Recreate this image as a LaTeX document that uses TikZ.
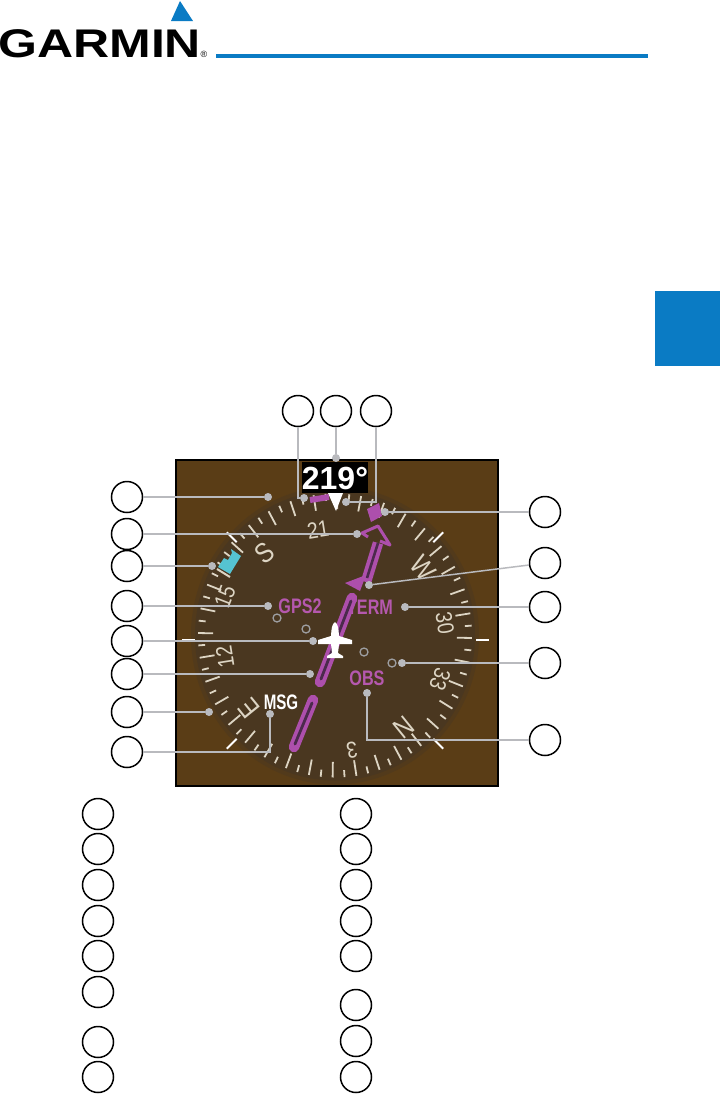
\documentclass[tikz,border=0pt]{standalone}
\usepackage{fontspec}
\setmainfont{Liberation Sans}
\definecolor{garminblue}{HTML}{0A7BC4}
\definecolor{panelbrown}{HTML}{5A3D16}
\definecolor{diskmid}{HTML}{523A1B}
\definecolor{diskbrown}{HTML}{4A3720}
\definecolor{leadergray}{HTML}{B9BABE}
\definecolor{needlepink}{HTML}{AD4FAC}
\definecolor{needledark}{HTML}{4B2A4C}
\definecolor{labelpink}{HTML}{B558AE}
\definecolor{tickcream}{HTML}{DDD5C4}
\definecolor{bugcyan}{HTML}{55C3D2}
\tikzset{
  callout/.style={draw=black,line width=1.5pt,fill=white,circle,minimum size=31pt,inner sep=0pt},
  leaderdot/.style={fill=leadergray,circle,minimum size=8pt,inner sep=0pt},
  leader/.style={draw=leadergray,line width=1.5pt},
  scaledeg/.style={text=tickcream,inner sep=0pt},
  modetext/.style={text=labelpink,font=\fontsize{21}{21}\selectfont\bfseries,inner sep=0pt,xscale=.77},
  cdidot/.style={draw=leadergray!85!black,line width=1.3pt},
  needle/.style={line width=10.5pt,draw=needlepink,line cap=round},
  needlecore/.style={line width=2.8pt,draw=needledark,line cap=round}
}
\begin{document}
\begin{tikzpicture}[x=1pt,y=-1pt]
\useasboundingbox (0,0) rectangle (720,1120);
\fill[white] (0,0) rectangle (720,1120);
\fill[garminblue] (180,1) -- (193,21) -- (171,21) -- cycle;
\node[anchor=base west,inner sep=0pt,xscale=1.25,font=\fontsize{40}{40}\selectfont\bfseries] (logo) at (-2,57) {GARMIN};
\node[inner sep=0pt,font=\fontsize{9}{9}\selectfont] (regmark) at (204,54) {®};
\fill[garminblue] (216,54) rectangle (648,58);
\fill[garminblue] (655,291) rectangle (720,366);
\filldraw[fill=panelbrown,draw=black,line width=2pt] (176,460) rectangle (498,786);
\fill[diskmid] (335,635.5) ellipse [x radius=144,y radius=149];
\fill[diskbrown] (335,635.5) ellipse [x radius=140,y radius=145];
\foreach \k in {0,...,71}{
  \pgfmathsetmacro{\ang}{1+5*\k}
  \pgfmathsetmacro{\inner}{ifthenelse(mod(\k,2)==0,0.89,0.95)}
  \draw[tickcream,line width=1.8pt] ({335+137*sin(\ang)},{635.5-142*cos(\ang)}) -- ({335+137*\inner*sin(\ang)},{635.5-142*\inner*cos(\ang)});
}
\foreach \txt/\rot/\px/\py/\sz in {21/9/318/530/23,S/39/265/553/28,15/69/225/597/23,12/99/225/657/23,E/129/249/708/28,3/189/352/750/23,N/219/404/727/28,33/-111/440/679/23,30/-81/445/623/23,W/-51/423/568/28}{
  \node[scaledeg,rotate=\rot,xscale=.85,font=\fontsize{\sz}{\sz}\selectfont] at (\px,\py) {\txt};
}
\foreach \ang in {45,135,225,315}{
  \draw[white,line width=2pt] ({335+153*sin(\ang)},{640.5-153*cos(\ang)}) -- ({335+139*sin(\ang)},{640.5-139*cos(\ang)});
}
\draw[white,line width=2.5pt] (182,640) -- (195,640);
\draw[white,line width=2.5pt] (476,640) -- (489,640);
\draw[tickcream,line width=2pt] (217,569) -- (230,577);
\fill[bugcyan] (231,549) -- (241,556) -- (230,574) -- (218,567) -- (224,558) -- (228,560) -- (232,553) -- cycle;
\fill[black] (302,462) rectangle (368,493);
\node[text=white,inner sep=0pt,font=\fontsize{32}{32}\selectfont\bfseries] (hdg) at (335,478) {219°};
\draw[needlepink,line width=6pt] (310,500) -- (329,497);
\fill[white] (328,493) -- (343,493) -- (336,511) -- cycle;
\fill[needlepink] (379,503) -- (382,516) -- (371,522) -- (367,509) -- cycle;
\node[modetext] (gpsmode) at (300,606) {GPS2};
\node[modetext] (termmode) at (370,607) {TERM};
\node[modetext] (obsmode) at (367,678) {OBS};
\node[text=white,inner sep=0pt,xscale=.72,font=\fontsize{21}{21}\selectfont\bfseries] (msgflag) at (281,702) {MSG};
\draw[needle] (294,747) -- (313,700);
\draw[needlecore] (295,744) -- (312,703);
\draw[needle] (320,682) -- (352,598);
\draw[needlecore] (321,679) -- (351,601);
\draw[needle,line cap=butt] (366,582) -- (378,543);
\draw[needledark,line width=2.6pt] (367,578) -- (378,543);
\fill[needlepink] (345,583) -- (366,575) -- (360,591) -- cycle;
\draw[needlepink,line width=3pt,line join=round] (380,541) -- (390,545) -- (378,526) -- (362,533) -- (368,537);
\foreach \dx/\dy in {277/618,306/629,364/652,392/663}{
  \draw[cdidot] (\dx,\dy) circle (4);
}
\fill[white] (335,622) .. controls (338,624) and (338.5,628) .. (339,636) -- (352,640) -- (352,644) -- (339,644) -- (338,653) -- (343,656) -- (343,658) -- (327,658) -- (327,656) -- (332,653) -- (331,644) -- (318,644) -- (318,640) -- (331,636) .. controls (331.5,628) and (332,624) .. (335,622) -- cycle;
\node[leaderdot] (dotA) at (268,497) {};
\node[leaderdot] (dotB) at (357,534) {};
\node[leaderdot] (dotC) at (212,566) {};
\node[leaderdot] (dotD) at (268,606) {};
\node[leaderdot] (dotE) at (313,641) {};
\node[leaderdot] (dotF) at (310,674) {};
\node[leaderdot] (dotG) at (209,712) {};
\node[leaderdot] (dotH) at (270,714) {};
\node[leaderdot] (dotI) at (304,498) {};
\node[leaderdot] (dotJ) at (336,458) {};
\node[leaderdot] (dotK) at (346,502) {};
\node[leaderdot] (dotL) at (385,512) {};
\node[leaderdot] (dotM) at (369,585) {};
\node[leaderdot] (dotN) at (405,607) {};
\node[leaderdot] (dotO) at (402,663) {};
\node[leaderdot] (dotP) at (367,693) {};
\node[callout] (callA) at (127,497) {};
\node[callout] (callB) at (127,534) {};
\node[callout] (callC) at (127,566) {};
\node[callout] (callD) at (127,606) {};
\node[callout] (callE) at (127,641) {};
\node[callout] (callF) at (127,674) {};
\node[callout] (callG) at (127,712) {};
\node[callout] (callH) at (127,752) {};
\node[callout] (callI) at (298,411) {};
\node[callout] (callJ) at (336,411) {};
\node[callout] (callK) at (376,411) {};
\node[callout] (callL) at (545,512) {};
\node[callout] (callM) at (545,563) {};
\node[callout] (callN) at (545,607) {};
\node[callout] (callO) at (545,663) {};
\node[callout] (callP) at (545,740) {};
\draw[leader] (callA) -- (dotA);
\draw[leader] (callB) -- (dotB);
\draw[leader] (callC) -- (dotC);
\draw[leader] (callD) -- (dotD);
\draw[leader] (callE) -- (dotE);
\draw[leader] (callF) -- (dotF);
\draw[leader] (callG) -- (dotG);
\draw[leader] (callH) -| (dotH);
\draw[leader] (callI) |- (dotI);
\draw[leader] (callJ) -- (dotJ);
\draw[leader] (callK) |- (dotK);
\draw[leader] (callL) -- (dotL);
\draw[leader] (callM) -- (dotM);
\draw[leader] (callN) -- (dotN);
\draw[leader] (callO) -- (dotO);
\draw[leader] (callP) -| (dotP);
\foreach \cy in {814,849,885,921,956,992,1042,1077}{
  \node[callout] at (98,\cy) {};
}
\foreach \cy in {814,849,885,921,956,1005,1041,1077}{
  \node[callout] at (356,\cy) {};
}
\end{tikzpicture}
\end{document}
